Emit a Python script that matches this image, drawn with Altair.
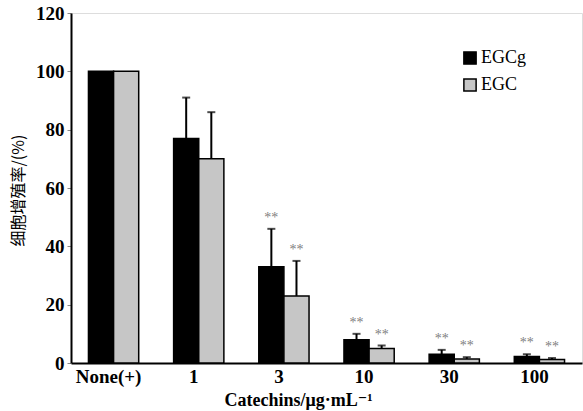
import altair as alt
import pandas as pd

categories = ["None(+)", "1", "3", "10", "30", "100"]
series = ["EGCg", "EGC"]
egcg_mean = [100, 77, 33, 8, 3, 2.2]
egcg_upper = [100, 91, 46, 10, 4.5, 3]
egc_mean = [100, 70, 23, 5, 1.4, 1.2]
egc_upper = [100, 86, 35, 6, 2, 1.7]
egcg_sig = ["", "", "**", "**", "**", "**"]
egc_sig = ["", "", "**", "**", "**", "**"]

rows = []
for i, c in enumerate(categories):
    rows.append({"cat": c, "series": "EGCg", "mean": egcg_mean[i], "upper": egcg_upper[i], "sig": egcg_sig[i]})
    rows.append({"cat": c, "series": "EGC", "mean": egc_mean[i], "upper": egc_upper[i], "sig": egc_sig[i]})
df = pd.DataFrame(rows)

SERIF = "'Times New Roman', 'Liberation Serif', 'DejaVu Serif', serif"

x = alt.X("cat:N", sort=categories,
          scale=alt.Scale(paddingInner=0.41, paddingOuter=0.205),
          axis=alt.Axis(title="Catechins/μg·mL⁻¹", labelAngle=0, ticks=False,
                        labelFont=SERIF, labelFontSize=19, labelFontWeight="bold",
                        labelColor="black", labelPadding=4, labelOffset=-5,
                        titleFont=SERIF, titleFontSize=18, titleFontWeight="bold",
                        titleColor="black", titleX=227, titleY=28,
                        domainColor="black", domainWidth=2))
xo = alt.XOffset("series:N", sort=series)
y = alt.Y("mean:Q", scale=alt.Scale(domain=[0, 120], nice=False),
          axis=alt.Axis(title="细胞增殖率/(%)", values=[0, 20, 40, 60, 80, 100, 120],
                        grid=False, tickSize=4, tickColor="#888", tickWidth=1,
                        labelFont=SERIF, labelFontSize=19, labelFontWeight="bold",
                        labelColor="black", labelPadding=3,
                        titleFont="Noto Sans CJK SC", titleFontSize=16,
                        titleFontWeight="normal", titleColor="black",
                        titleAngle=270, titleX=-53, titleY=177,
                        titleAlign="center", titleBaseline="middle",
                        domainColor="black", domainWidth=2))

color = alt.Color("series:N", sort=series,
                  scale=alt.Scale(domain=series, range=["#000000", "#c6c6c6"]),
                  legend=alt.Legend(title=None, orient="none", legendX=390, legendY=36,
                                    symbolType="square", symbolSize=150,
                                    symbolStrokeColor="black", symbolStrokeWidth=1.5,
                                    labelFont=SERIF, labelFontSize=18, labelColor="black",
                                    rowPadding=7, labelOffset=2))

base = alt.Chart(df)

bars = base.mark_bar(stroke="black", strokeWidth=1.5).encode(x=x, xOffset=xo, y=y, color=color)

err_df = df[df["upper"] > df["mean"]]
errbase = alt.Chart(err_df)
rule = errbase.mark_rule(color="black", strokeWidth=2).encode(
    x=alt.X("cat:N", sort=categories), xOffset=xo, y="mean:Q", y2="upper:Q")
cap = errbase.mark_tick(color="black", thickness=2, size=8).encode(
    x=alt.X("cat:N", sort=categories), xOffset=xo, y="upper:Q")
stars = errbase.mark_text(color="#808080", fontSize=14, font=SERIF, dy=-11,
                          baseline="middle").encode(
    x=alt.X("cat:N", sort=categories), xOffset=xo, y="upper:Q", text="sig:N")

chart = alt.layer(bars, rule, cap, stars).properties(
    width=511, height=350,
    autosize=alt.AutoSizeParams(type="none"),
    padding={"left": 71, "top": 13, "right": 1, "bottom": 48},
).configure_view(stroke="black", strokeWidth=2).configure(background="white")

chart.save("out.html", embed_options={"renderer": "svg", "actions": False})
